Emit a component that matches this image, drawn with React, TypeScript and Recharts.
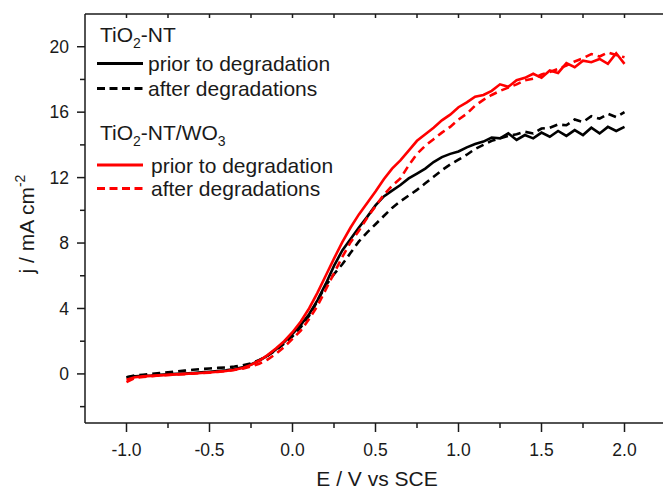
import React from "react";
import { LineChart, Line, XAxis, YAxis, Customized } from "recharts";

// potential E / V vs SCE
const potential = [
  -1.0, -0.95, -0.9, -0.85, -0.8, -0.75, -0.7, -0.65, -0.6, -0.55, -0.5, -0.45, -0.4, -0.35, -0.3, -0.25, -0.2, -0.15, -0.1, -0.05,
  0.0, 0.05, 0.1, 0.15, 0.2, 0.25, 0.3, 0.35, 0.4, 0.45, 0.5, 0.55, 0.6, 0.65, 0.7, 0.75, 0.8, 0.85, 0.9, 0.95,
  1.0, 1.05, 1.1, 1.15, 1.2, 1.25, 1.3, 1.35, 1.4, 1.45, 1.5, 1.55, 1.6, 1.65, 1.7, 1.75, 1.8, 1.85, 1.9, 1.95, 2.0,
];

// TiO2-NT, prior to degradation
const ntPrior = [
  -0.2, -0.15, -0.12, -0.1, -0.06, -0.03, 0.0, 0.03, 0.06, 0.1, 0.13, 0.17, 0.22, 0.3, 0.4, 0.58, 0.82, 1.12, 1.5, 1.95,
  2.45, 3.0, 3.65, 4.5, 5.5, 6.6, 7.55, 8.25, 8.95, 9.6, 10.3, 10.85, 11.2, 11.55, 11.95, 12.25, 12.55, 12.95, 13.25, 13.45,
  13.6, 13.85, 14.05, 14.2, 14.45, 14.4, 14.7, 14.3, 14.6, 14.4, 14.75, 14.5, 14.85, 14.55, 14.9, 14.6, 15.05, 14.7, 15.1, 14.85, 15.1,
];

// TiO2-NT, after degradations
const ntAfter = [
  -0.2, -0.1, -0.05, 0.0, 0.05, 0.1, 0.15, 0.2, 0.25, 0.3, 0.33, 0.37, 0.4, 0.45, 0.52, 0.65, 0.85, 1.12, 1.45, 1.85,
  2.3, 2.85, 3.55, 4.45, 5.4, 6.1, 6.7, 7.4, 8.1, 8.65, 9.15, 9.65, 10.15, 10.55, 10.9, 11.25, 11.65, 12.05, 12.45, 12.8,
  13.1, 13.4, 13.75, 14.0, 14.25, 14.4, 14.55, 14.65, 14.8, 14.7, 15.0, 15.05, 15.25, 15.2, 15.55, 15.4, 15.75, 15.6, 15.9, 15.7, 16.0,
];

// TiO2-NT/WO3, prior to degradation
const wo3Prior = [
  -0.35, -0.2, -0.15, -0.12, -0.09, -0.06, -0.03, 0.0, 0.03, 0.06, 0.09, 0.13, 0.18, 0.25, 0.36, 0.55, 0.82, 1.15, 1.55, 2.0,
  2.55, 3.2, 4.0, 4.95, 6.0, 7.05, 8.05, 8.95, 9.75, 10.45, 11.15, 11.9, 12.55, 13.05, 13.65, 14.25, 14.65, 15.05, 15.5, 15.85,
  16.3, 16.6, 16.95, 17.05, 17.3, 17.7, 17.55, 17.95, 18.1, 18.35, 18.1, 18.55, 18.4, 19.0, 18.75, 19.15, 19.05, 19.25, 18.95, 19.6, 18.95,
];

// TiO2-NT/WO3, after degradations
const wo3After = [
  -0.5, -0.25, -0.18, -0.14, -0.1, -0.07, -0.04, -0.01, 0.02, 0.05, 0.08, 0.12, 0.17, 0.24, 0.32, 0.45, 0.62, 0.88, 1.22, 1.65,
  2.15, 2.65, 3.35, 4.15, 5.15, 6.15, 7.15, 8.05, 8.75, 9.55, 10.25, 10.95, 11.5, 11.95, 12.75, 13.45, 13.95, 14.35, 14.75, 15.1,
  15.55, 15.9, 16.4, 16.75, 17.05, 17.3, 17.5, 17.7, 17.95, 18.05, 18.3, 18.45, 18.65, 18.85, 19.1, 19.3, 19.55, 19.4, 19.65, 19.5, 19.35,
];

const xMajor = [-1.0, -0.5, 0.0, 0.5, 1.0, 1.5, 2.0];
const xMinor = [-0.75, -0.25, 0.25, 0.75, 1.25, 1.75];
const yMajor = [0, 4, 8, 12, 16, 20];
const yMinor = [-2, 2, 6, 10, 14, 18];

const rows = potential.map((e, i) => ({
  e,
  ntPrior: ntPrior[i],
  ntAfter: ntAfter[i],
  wo3Prior: wo3Prior[i],
  wo3After: wo3After[i],
}));

const FONT = "'Liberation Sans', Arial, sans-serif";
const INK = "#1a1a1a";
const RED = "#ff0000";
const xTicks = [...xMajor, ...xMinor].sort((a, b) => a - b);
const yTicks = [...yMajor, ...yMinor].sort((a, b) => a - b);

const XTick = (props: any) => {
  const { x, y, payload } = props;
  const major = xMajor.includes(payload.value);
  return (
    <g>
      <line x1={x} x2={x} y1={y} y2={y + (major ? 9 : 5)} stroke={INK} strokeWidth={1.5} />
      {major && (
        <text x={x} y={y + 33} textAnchor="middle" fontSize={17.5} fontFamily={FONT} fill={INK}>
          {payload.value.toFixed(1)}
        </text>
      )}
    </g>
  );
};

const TopTick = (props: any) => {
  const { x, y } = props;
  return <line x1={x} x2={x} y1={y} y2={y + 4} stroke={INK} strokeWidth={1.5} />;
};

const YTick = (props: any) => {
  const { x, y, payload } = props;
  const major = yMajor.includes(payload.value);
  return (
    <g>
      <line x1={x - (major ? 8 : 5)} x2={x} y1={y} y2={y} stroke={INK} strokeWidth={1.5} />
      {major && (
        <text x={x - 16} y={y} dy="0.36em" textAnchor="end" fontSize={17.5} fontFamily={FONT} fill={INK}>
          {payload.value}
        </text>
      )}
    </g>
  );
};

const Legend = () => (
  <g fontFamily={FONT} fill={INK} fontSize={21}>
    <text x={100} y={42}>
      TiO<tspan fontSize={14} dy={6}>2</tspan>
      <tspan dy={-6}>-NT</tspan>
    </text>
    <line x1={97} x2={143} y1={63.5} y2={63.5} stroke="#000" strokeWidth={3} />
    <text x={148} y={71}>prior to degradation</text>
    <line x1={97} x2={143} y1={88.5} y2={88.5} stroke="#000" strokeWidth={3} strokeDasharray="8 4.5" />
    <text x={148} y={96}>after degradations</text>
    <text x={100} y={140}>
      TiO<tspan fontSize={14} dy={6}>2</tspan>
      <tspan dy={-6}>-NT/WO</tspan>
      <tspan fontSize={14} dy={6}>3</tspan>
    </text>
    <line x1={97} x2={143} y1={165} y2={165} stroke={RED} strokeWidth={3} />
    <text x={151} y={173}>prior to degradation</text>
    <line x1={97} x2={143} y1={188.5} y2={188.5} stroke={RED} strokeWidth={3} strokeDasharray="8 4.5" />
    <text x={151} y={196}>after degradations</text>
  </g>
);

const AxisTitles = () => (
  <g fontFamily={FONT} fill={INK} fontSize={21}>
    <text x={377} y={486} textAnchor="middle">E / V vs SCE</text>
    <text x={34} y={224} textAnchor="middle" transform="rotate(-90 34 224)">
      j / mA cm<tspan fontSize={14} dy={-9}>-2</tspan>
    </text>
  </g>
);

export default function App() {
  return (
    <div style={{ position: "absolute", left: 0, top: 0, width: 663, height: 489, overflow: "hidden", background: "#fff" }}>
      <LineChart width={680} height={489} data={rows} margin={{ top: 0, right: 14, bottom: 0, left: 0 }}>
        <XAxis
          xAxisId="b"
          dataKey="e"
          type="number"
          domain={[-1.25, 2.25]}
          ticks={xTicks}
          interval={0}
          height={66}
          tickSize={0}
          tickMargin={0}
          tickLine={false}
          tick={<XTick />}
          axisLine={{ stroke: INK, strokeWidth: 1.5 }}
          allowDataOverflow
        />
        <XAxis
          xAxisId="t"
          orientation="top"
          dataKey="e"
          type="number"
          domain={[-1.25, 2.25]}
          ticks={xTicks}
          interval={0}
          height={14}
          tickSize={0}
          tickMargin={0}
          tickLine={false}
          tick={<TopTick />}
          axisLine={{ stroke: INK, strokeWidth: 1.5 }}
          allowDataOverflow
        />
        <YAxis
          type="number"
          domain={[-3, 22]}
          ticks={yTicks}
          interval={0}
          width={85}
          tickSize={0}
          tickMargin={0}
          tickLine={false}
          tick={<YTick />}
          axisLine={{ stroke: INK, strokeWidth: 1.5 }}
          allowDataOverflow
        />
        <Line xAxisId="b" dataKey="ntPrior" type="linear" stroke="#000" strokeWidth={2.6} dot={false} isAnimationActive={false} />
        <Line xAxisId="b" dataKey="ntAfter" type="linear" stroke="#000" strokeWidth={2.6} strokeDasharray="8 5" dot={false} isAnimationActive={false} />
        <Line xAxisId="b" dataKey="wo3Prior" type="linear" stroke={RED} strokeWidth={2.6} dot={false} isAnimationActive={false} />
        <Line xAxisId="b" dataKey="wo3After" type="linear" stroke={RED} strokeWidth={2.6} strokeDasharray="8 5" dot={false} isAnimationActive={false} />
        <Customized component={Legend} />
        <Customized component={AxisTitles} />
      </LineChart>
    </div>
  );
}
